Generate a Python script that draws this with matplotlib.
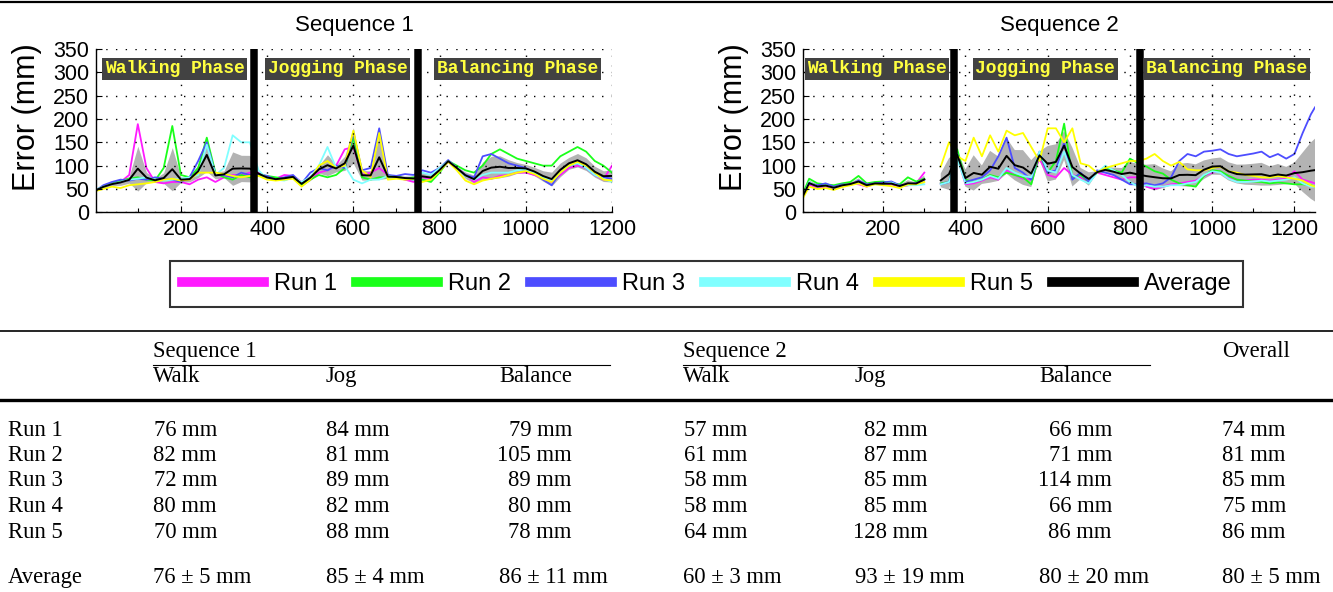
import numpy as np
import matplotlib
matplotlib.use('Agg')
import matplotlib.pyplot as plt
from matplotlib.lines import Line2D

# ---------------- data ----------------
FRAMES1 = list(range(0, 1201, 20))
S1_RUN1 = [47, 55, 60, 65, 80, 189, 95, 65, 62, 65, 65, 60, 70, 75, 65, 75, 80, 80, 85,
           85, 75, 72, 80, 78, 65, 70, 85, 90, 100, 135, 140, 80, 85, 95, 80, 75, 70, 65, 75,
           72, 90, 108, 95, 80, 65, 75, 72, 78, 80, 85, 85, 80, 72, 65, 80, 95, 100, 95, 80, 70, 100]
S1_RUN2 = [45, 55, 62, 68, 72, 75, 70, 68, 95, 185, 80, 75, 95, 160, 85, 75, 70, 80, 75,
           80, 78, 75, 72, 75, 58, 70, 80, 75, 80, 95, 160, 75, 70, 75, 75, 78, 72, 75, 70,
           65, 85, 110, 100, 90, 85, 100, 125, 135, 125, 115, 110, 105, 100, 100, 120, 130, 140, 130, 110, 100, 85]
S1_RUN3 = [45, 58, 65, 70, 68, 72, 70, 75, 72, 70, 65, 75, 110, 150, 80, 80, 75, 85, 80,
           82, 78, 70, 75, 80, 62, 85, 95, 90, 100, 95, 170, 90, 95, 180, 80, 78, 82, 80, 90,
           85, 95, 112, 95, 80, 75, 120, 125, 115, 105, 100, 95, 85, 70, 58, 85, 100, 105, 95, 80, 75, 72]
S1_RUN4 = [48, 55, 60, 65, 70, 72, 75, 70, 68, 70, 72, 75, 80, 145, 80, 95, 165, 150, 150,
           90, 72, 70, 68, 75, 65, 75, 100, 140, 95, 100, 70, 62, 70, 70, 78, 75, 73, 70, 85,
           80, 95, 110, 95, 78, 70, 80, 85, 85, 85, 90, 92, 85, 75, 68, 85, 100, 105, 95, 80, 72, 65]
S1_RUN5 = [45, 50, 55, 52, 58, 60, 62, 65, 70, 72, 68, 70, 85, 85, 85, 82, 78, 75, 78,
           78, 70, 68, 70, 72, 55, 70, 100, 110, 95, 100, 175, 90, 75, 170, 70, 72, 70, 72, 65,
           70, 88, 108, 90, 68, 60, 68, 72, 75, 80, 85, 88, 82, 72, 65, 85, 100, 108, 100, 85, 70, 68]

nan = np.nan
FRAMES2 = list(range(0, 1241, 20)) + [1250]
S2_RUN1 = [25, 60, 52, 55, 50, 55, 62, 60, 55, 62, 58, 60, 55, 58, 62, 85, nan,
           62, 65, 120, 60, 62, 68, 75, 70, 90, 80, 72, 70, 115, 80, 75, 95, 80, 75, 65, 85, 80, 75, 70, 75,
           75, 55, 50, 55, 60, 62, 65, 68, 78, 85, 88, 75, 70, 68, 70, 70, 68, 70, 72, 88, 70, 65, 62]
S2_RUN2 = [30, 72, 62, 60, 58, 62, 65, 78, 62, 65, 66, 62, 60, 75, 66, 72, nan,
           62, 65, 135, 70, 65, 70, 80, 75, 85, 80, 75, 60, 125, 85, 110, 190, 75, 80, 65, 85, 95, 90, 85, 115,
           105, 98, 88, 83, 70, 62, 58, 55, 78, 90, 88, 78, 70, 68, 66, 65, 62, 64, 62, 60, 60, 58, 55]
S2_RUN3 = [28, 62, 58, 62, 55, 60, 58, 68, 60, 62, 64, 66, 58, 60, 62, 70, nan,
           60, 65, 125, 65, 70, 75, 90, 120, 160, 95, 85, 70, 130, 85, 90, 150, 70, 85, 65, 90, 85, 80, 70, 60,
           60, 62, 58, 62, 75, 110, 125, 120, 130, 132, 135, 125, 120, 123, 126, 130, 118, 125, 115, 125, 170, 210, 225]
S2_RUN4 = [25, 65, 55, 58, 52, 58, 60, 62, 58, 60, 60, 64, 56, 58, 58, 60, nan,
           60, 65, 115, 62, 65, 70, 78, 72, 95, 85, 78, 75, 130, 90, 85, 130, 80, 70, 62, 85, 100, 90, 80, 65,
           55, 58, 55, 55, 58, 58, 62, 65, 80, 88, 85, 72, 65, 65, 66, 68, 66, 68, 70, 75, 62, 55, 55]
S2_RUN5 = [22, 55, 50, 52, 48, 54, 58, 62, 55, 60, 58, 56, 52, 60, 60, 65, nan,
           98, 150, 120, 110, 160, 120, 165, 130, 175, 165, 170, 140, 110, 180, 180, 150, 180, 105, 100, 85, 95, 100, 105, 110,
           110, 115, 125, 110, 100, 108, 92, 90, 90, 95, 98, 88, 85, 80, 78, 75, 75, 78, 75, 72, 68, 58, 55]

BOUNDS1 = [370, 751]
BOUNDS2 = [373, 824]
PHASES = ['Walking Phase', 'Jogging Phase', 'Balancing Phase']
PHASE_X1 = [186, 563, 981]
PHASE_X2 = [185, 594, 1036]
RUN_LABELS = ['Run 1', 'Run 2', 'Run 3', 'Run 4', 'Run 5', 'Average']
RUN_COLORS = ['#ff1aff', '#1aff1a', '#4d4dff', '#80ffff', '#ffff00', '#000000']

# table data
ROW_NAMES = ['Run 1', 'Run 2', 'Run 3', 'Run 4', 'Run 5']
S1_WALK = [76, 82, 72, 80, 70]
S1_JOG = [84, 81, 89, 82, 88]
S1_BAL = [79, 105, 89, 80, 78]
S2_WALK = [57, 61, 58, 58, 64]
S2_JOG = [82, 87, 85, 85, 128]
S2_BAL = [66, 71, 114, 66, 86]
OVERALL = [74, 81, 85, 75, 86]
AVG_MEAN = [76, 85, 86, 60, 93, 80, 80]
AVG_STD = [5, 4, 11, 3, 19, 20, 5]

# ---------------- figure ----------------
W, H = 1333, 592
fig = plt.figure(figsize=(W / 100, H / 100), dpi=100)


def fx(x):
    return x / W


def fy(y):
    return 1 - y / H


SANS = 'Liberation Sans'
SERIF = 'Liberation Serif'

ax_bot, ax_top = 212.3, 49


def make_axes(left, right, frames, runs, bounds, phase_x, title, xlim):
    ax = fig.add_axes([fx(left), fy(ax_bot), (right - left) / W, (ax_bot - ax_top) / H])
    x = np.array(frames, dtype=float)
    data = np.array(runs, dtype=float)
    mean = data.mean(axis=0)
    std = data.std(axis=0)
    lo = np.ma.masked_invalid(mean - std)
    hi = np.ma.masked_invalid(mean + std)
    ax.fill_between(x, lo, hi, color='#b3b3b3', lw=0, zorder=1)
    for r, c in zip(runs, RUN_COLORS[:5]):
        ax.plot(x, r, color=c, lw=1.3, zorder=2)
    ax.plot(x, mean, color='k', lw=1.4, zorder=3)
    for b in bounds:
        ax.axvline(b, color='k', lw=5.4, zorder=5)
    for px_, name in zip(phase_x, PHASES):
        ax.text(px_, 308, name, ha='center', va='center', family='Liberation Mono',
                weight='bold', fontsize=13, color='#ffff40', zorder=6,
                bbox=dict(facecolor='#424242', edgecolor='none', boxstyle='square,pad=0.14'))
    ax.set_xlim(*xlim)
    ax.set_ylim(0, 350)
    ax.set_xticks([200, 400, 600, 800, 1000, 1200])
    ax.set_xticks(range(100, 1250, 200), minor=True)
    ax.set_yticks(range(0, 351, 50))
    for s in ['top', 'right']:
        ax.spines[s].set_visible(False)
    for s in ['left', 'bottom']:
        ax.spines[s].set_linewidth(1.0)
    ax.tick_params(direction='in', length=4, width=0.8, labelsize=15.5, pad=5)
    ax.tick_params(which='minor', direction='in', length=3, width=0.8)
    for lab in ax.get_xticklabels() + ax.get_yticklabels():
        lab.set_family(SANS)
    ax.grid(True, which='major', color='k', linestyle=(0, (1, 6)), lw=1.0)
    ax.set_axisbelow(False)
    ax.set_title(title, fontsize=16, family=SANS, pad=13)
    ax.set_ylabel('Error (mm)', fontsize=22, family=SANS)
    ax.yaxis.set_label_coords((42 - left) / (right - left), 0.58)
    return ax


ax1 = make_axes(96, 612, FRAMES1, [S1_RUN1, S1_RUN2, S1_RUN3, S1_RUN4, S1_RUN5],
                BOUNDS1, PHASE_X1, 'Sequence 1', (3, 1200))
ax2 = make_axes(803, 1315, FRAMES2, [S2_RUN1, S2_RUN2, S2_RUN3, S2_RUN4, S2_RUN5],
                BOUNDS2, PHASE_X2, 'Sequence 2', (5, 1250))
ax2.yaxis.set_label_coords((749 - 803) / (1315 - 803), 0.58)

handles = [Line2D([], [], color=c, lw=7) for c in RUN_COLORS]
leg = fig.legend(handles, RUN_LABELS, loc='center', bbox_to_anchor=(fx(706.5), fy(284)),
                 ncol=6, prop={'family': SANS, 'size': 17}, handlelength=3.5,
                 handletextpad=0.4, columnspacing=0.8, frameon=True, fancybox=False,
                 edgecolor='k', borderpad=0.5)
leg.get_frame().set_linewidth(1.5)

# ---------------- table ----------------
def hline(y, x0, x1, lw):
    fig.add_artist(Line2D([fx(x0), fx(x1)], [fy(y), fy(y)], color='k', lw=lw,
                          transform=fig.transFigure))


hline(1.5, 0, W, 1.6)
hline(331, 0, W, 1.2)
hline(365, 153, 610, 0.8)
hline(365, 683, 1150, 0.8)
hline(400, 0, W, 2.4)

tkw = dict(family=SERIF, fontsize=16.3, va='baseline')
COL_LEFT = [153, 326, 499, 683, 855, 1039, 1222]
COL_RIGHT = [217, 390, 572, 747, 928, 1112, 1286]
fig.text(fx(153), fy(357), 'Sequence 1', ha='left', **tkw)
fig.text(fx(683), fy(357), 'Sequence 2', ha='left', **tkw)
fig.text(fx(1222), fy(357), 'Overall', ha='left', **tkw)
for xl, name in zip(COL_LEFT[:6], ['Walk', 'Jog', 'Balance', 'Walk', 'Jog', 'Balance']):
    fig.text(fx(xl), fy(382), name, ha='left', **tkw)

ROW_Y = [436, 461, 486, 512, 538]
cols = [S1_WALK, S1_JOG, S1_BAL, S2_WALK, S2_JOG, S2_BAL, OVERALL]
for i, (name, yb) in enumerate(zip(ROW_NAMES, ROW_Y)):
    fig.text(fx(8), fy(yb), name, ha='left', **tkw)
    for xr, col in zip(COL_RIGHT, cols):
        fig.text(fx(xr), fy(yb), f'{col[i]} mm', ha='right', **tkw)
fig.text(fx(8), fy(583), 'Average', ha='left', **tkw)
for xl, m, s in zip(COL_LEFT, AVG_MEAN, AVG_STD):
    fig.text(fx(xl), fy(583), f'{m} \u00b1 {s} mm', ha='left', **tkw)

fig.savefig('out.png', dpi=100)
